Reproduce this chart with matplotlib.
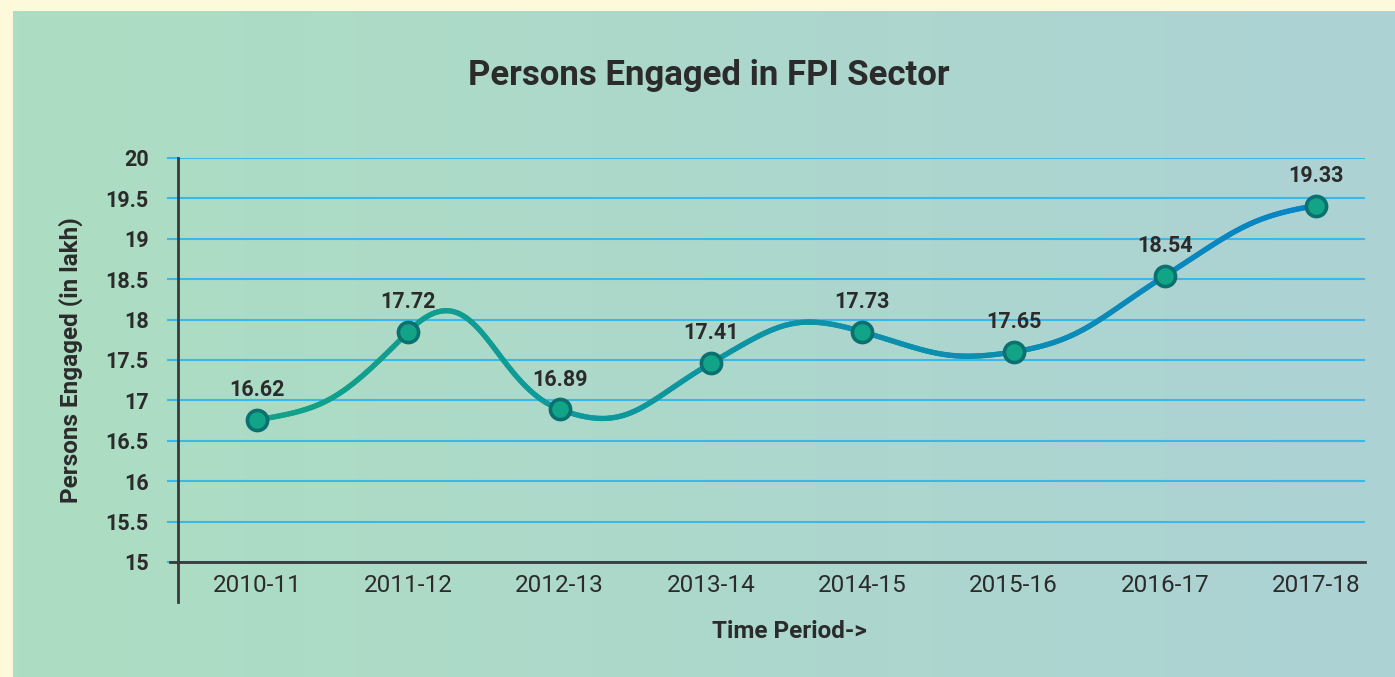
import numpy as np
import matplotlib
matplotlib.use("Agg")
import matplotlib.pyplot as plt
from matplotlib.collections import LineCollection
from matplotlib.colors import to_rgb
from matplotlib.lines import Line2D

# ---- data ----
periods = ["2010-11", "2011-12", "2012-13", "2013-14", "2014-15", "2015-16", "2016-17", "2017-18"]
persons = [16.76, 17.85, 16.89, 17.46, 17.85, 17.60, 18.54, 19.41]
value_labels = ["16.62", "17.72", "16.89", "17.41", "17.73", "17.65", "18.54", "19.33"]
yticks = [15, 15.5, 16, 16.5, 17, 17.5, 18, 18.5, 19, 19.5, 20]
ytick_labels = ["15", "15.5", "16", "16.5", "17", "17.5", "18", "18.5", "19", "19.5", "20"]

plt.rcParams['font.family'] = ['Roboto', 'DejaVu Sans']
TXT = "#2b2b2b"

W, H = 1395, 677
fig = plt.figure(figsize=(W / 100, H / 100), dpi=100)
fig.patch.set_facecolor("#fff9db")

# background gradient panel
bg = fig.add_axes([13 / W, 0, 1 - 13 / W, 1 - 11 / H], zorder=0)
c1 = np.array(to_rgb("#acdec2"))
c2 = np.array(to_rgb("#acd2d5"))
t = np.linspace(0, 1, 256)
grad = (c1[None, :] * (1 - t)[:, None] + c2[None, :] * t[:, None])[None, :, :]
bg.imshow(grad, aspect="auto", extent=[0, 1, 0, 1])
bg.set_axis_off()

ax = fig.add_axes([178 / W, 1 - 562 / H, (1365 - 178) / W, (562 - 158) / H], zorder=1)
ax.patch.set_alpha(0)

x = np.arange(len(periods), dtype=float)
y = np.array(persons)

# smooth bezier path through the points (curve style: tangent slopes and handle length)
curve_slopes = [0.3, 1.9, -0.7, 1.1, -0.55, 0.3, 1.2, 0.3]
handle = 0.45
xs, ys = [], []
for i in range(len(x) - 1):
    tt = np.linspace(0, 1, 80, endpoint=(i == len(x) - 2))
    dx = x[i + 1] - x[i]
    p0 = np.array([x[i], y[i]])
    p3 = np.array([x[i + 1], y[i + 1]])
    p1 = p0 + handle * dx * np.array([1, curve_slopes[i]])
    p2 = p3 - handle * dx * np.array([1, curve_slopes[i + 1]])
    b0 = (1 - tt) ** 3
    b1 = 3 * (1 - tt) ** 2 * tt
    b2 = 3 * (1 - tt) * tt ** 2
    b3 = tt ** 3
    xs.append(b0 * p0[0] + b1 * p1[0] + b2 * p2[0] + b3 * p3[0])
    ys.append(b0 * p0[1] + b1 * p1[1] + b2 * p2[1] + b3 * p3[1])
xs = np.concatenate(xs)
ys = np.concatenate(ys)

pts = np.column_stack([xs, ys]).reshape(-1, 1, 2)
segs = np.concatenate([pts[:-1], pts[1:]], axis=1)
ca = np.array(to_rgb("#12a287"))
cb = np.array(to_rgb("#0784c6"))
f = (xs[:-1] - xs.min()) / (xs.max() - xs.min())
cols = ca[None, :] * (1 - f)[:, None] + cb[None, :] * f[:, None]
lc = LineCollection(segs, colors=cols, linewidths=3.8, capstyle="round",
                    joinstyle="round", zorder=3)
ax.add_collection(lc)

ax.plot(x, y, linestyle="none", marker="o", markersize=14.5, markerfacecolor="#12a486",
        markeredgecolor="#0b7070", markeredgewidth=2.6, zorder=4)

for xi, yi, lab in zip(x, y, value_labels):
    ax.annotate(lab, (xi, yi), xytext=(0, 13.5), textcoords="offset points",
                ha="center", va="bottom", fontsize=15.5, fontweight="bold", color=TXT, zorder=5)

ax.set_xlim(-0.522, 7.323)
ax.set_ylim(15, 20)
ax.set_yticks(yticks)
ax.set_yticklabels(ytick_labels, fontsize=15.5, fontweight="bold", color=TXT)
ax.set_xticks(x)
ax.set_xticklabels(periods, fontsize=17.5, color=TXT)
ax.tick_params(axis="y", length=8, width=1.5, color="#3bb8ea", pad=13)
ax.tick_params(axis="x", length=0, pad=9)
ax.yaxis.grid(True, color="#3bb8ea", linewidth=1.5, zorder=1)
ax.set_axisbelow(True)

for s in ["top", "right"]:
    ax.spines[s].set_visible(False)
ax.spines["left"].set_visible(False)
ax.spines["bottom"].set_color("#3a3a3a")
ax.spines["bottom"].set_linewidth(2)
ax.add_line(Line2D([0, 0], [-40 / 404, 1], transform=ax.transAxes, color="#3a3a3a",
                   linewidth=2, clip_on=False, zorder=2))
ax.add_line(Line2D([-8 / 1187, 0], [0, 0], transform=ax.transAxes, color="#3a3a3a",
                   linewidth=2, clip_on=False, zorder=2))

ax.set_ylabel("Persons Engaged (in lakh)", fontsize=17.5, fontweight="bold", color=TXT, labelpad=16)
ax.set_xlabel("Time Period->", fontsize=17.5, fontweight="bold", color=TXT, labelpad=18)
ax.xaxis.set_label_coords((789 - 178) / 1187, -0.115)
ax.xaxis.label.set_va("center")
ax.xaxis.label.set_position(((789 - 178) / 1187, 0))
ax.xaxis.set_label_coords((789 - 178) / 1187, -(632 - 562) / 404)

fig.text(709 / W, 1 - 76 / H, "Persons Engaged in FPI Sector", ha="center", va="center",
         fontsize=25, fontweight="bold", color=TXT)

fig.savefig("out.png", dpi=100, facecolor=fig.get_facecolor())
